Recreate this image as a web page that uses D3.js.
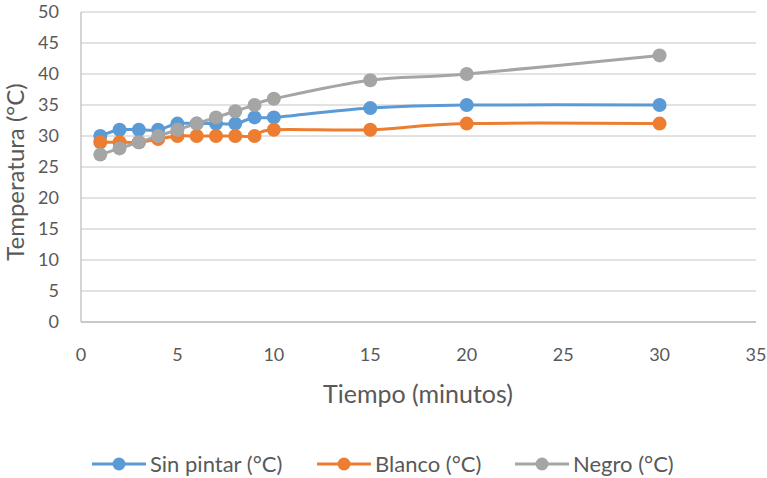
<!DOCTYPE html>
<html>
<head>
<meta charset="utf-8">
<script src="https://cdn.jsdelivr.net/npm/d3@7"></script>
<style>
  body { margin: 0; background: #fff; }
  svg text { font-family: "Lato", "Noto Sans", sans-serif; fill: #595959; }
</style>
</head>
<body>
<div id="chart"></div>
<script>
// Data
const tiempo = [1, 2, 3, 4, 5, 6, 7, 8, 9, 10, 15, 20, 30];
const sinPintar = [30, 31, 31, 31, 32, 32, 32, 32, 33, 33, 34.5, 35, 35];
const blanco = [29, 29, 29, 29.5, 30, 30, 30, 30, 30, 31, 31, 32, 32];
const negro = [27, 28, 29, 30, 31, 32, 33, 34, 35, 36, 39, 40, 43];
const seriesNames = ["Sin pintar (°C)", "Blanco (°C)", "Negro (°C)"];
const seriesColors = ["#5B9BD5", "#ED7D31", "#A5A5A5"];
const xTicks = [0, 5, 10, 15, 20, 25, 30, 35];
const yTicks = [0, 5, 10, 15, 20, 25, 30, 35, 40, 45, 50];

const W = 767, H = 478;
const plot = { left: 81, right: 756, top: 12, bottom: 322 };

const svg = d3.select("#chart").append("svg")
  .attr("width", W).attr("height", H);

const x = d3.scaleLinear().domain([0, 35]).range([plot.left, plot.right]);
const y = d3.scaleLinear().domain([0, 50]).range([plot.bottom, plot.top]);

// Gridlines
svg.append("g").selectAll("line")
  .data(yTicks)
  .join("line")
  .attr("x1", plot.left).attr("x2", plot.right)
  .attr("y1", d => y(d)).attr("y2", d => y(d))
  .attr("stroke", "#D9D9D9").attr("stroke-width", 1.3);

// Axis lines
svg.append("line")
  .attr("x1", plot.left).attr("x2", plot.left)
  .attr("y1", plot.top).attr("y2", plot.bottom)
  .attr("stroke", "#BFBFBF").attr("stroke-width", 1.3);
svg.append("line")
  .attr("x1", plot.left).attr("x2", plot.right)
  .attr("y1", plot.bottom).attr("y2", plot.bottom)
  .attr("stroke", "#BFBFBF").attr("stroke-width", 1.3);

// Tick labels
svg.append("g").selectAll("text")
  .data(yTicks)
  .join("text")
  .attr("x", 59).attr("y", d => y(d))
  .attr("dy", "0.36em")
  .attr("text-anchor", "end")
  .style("font-size", "18px")
  .text(d => d);

svg.append("g").selectAll("text")
  .data(xTicks)
  .join("text")
  .attr("x", d => x(d)).attr("y", 355)
  .attr("dy", "0.36em")
  .attr("text-anchor", "middle")
  .style("font-size", "18px")
  .text(d => d);

// Axis titles
svg.append("text")
  .attr("x", 418).attr("y", 403)
  .attr("text-anchor", "middle")
  .style("font-size", "25px")
  .text("Tiempo (minutos)");

svg.append("text")
  .attr("transform", "translate(24,172) rotate(-90)")
  .attr("text-anchor", "middle")
  .style("font-size", "24px")
  .text("Temperatura (°C)");

// Series
const allSeries = [sinPintar, blanco, negro].map((vals, i) => ({
  name: seriesNames[i],
  color: seriesColors[i],
  points: tiempo.map((t, j) => ({ t, v: vals[j] }))
}));

const line = d3.line()
  .x(d => x(d.t))
  .y(d => y(d.v))
  .curve(d3.curveCardinal.tension(0));

const g = svg.append("g");
allSeries.forEach(s => {
  g.append("path")
    .datum(s.points)
    .attr("d", line)
    .attr("fill", "none")
    .attr("stroke", s.color)
    .attr("stroke-width", 3)
    .attr("stroke-linecap", "round");
});
allSeries.forEach(s => {
  g.append("g").selectAll("circle")
    .data(s.points)
    .join("circle")
    .attr("cx", d => x(d.t)).attr("cy", d => y(d.v))
    .attr("r", 7)
    .attr("fill", s.color);
});

// Legend
const legendX = [92, 317, 515];
const legend = svg.append("g").selectAll("g")
  .data(allSeries)
  .join("g")
  .attr("transform", (d, i) => `translate(${legendX[i]},464)`);
legend.append("line")
  .attr("x1", 0).attr("x2", 54)
  .attr("stroke", d => d.color).attr("stroke-width", 3);
legend.append("circle")
  .attr("cx", 27).attr("r", 6.5)
  .attr("fill", d => d.color);
legend.append("text")
  .attr("x", 58).attr("dy", "0.36em")
  .style("font-size", "22px")
  .text(d => d.name);
</script>
</body>
</html>
